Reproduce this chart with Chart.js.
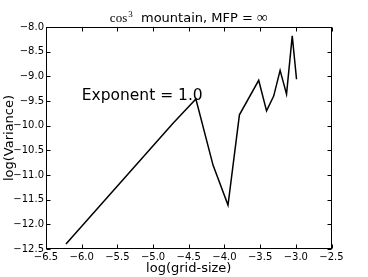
<!DOCTYPE html>
<html>
<head>
<meta charset="utf-8">
<script src="https://cdn.jsdelivr.net/npm/chart.js@4/dist/chart.umd.min.js"></script>
<style>
html,body{margin:0;padding:0;background:#fff;}
#wrap{width:368px;height:277px;position:relative;}
</style>
</head>
<body>
<div id="wrap"><canvas id="c" width="368" height="277"></canvas></div>
<script>
// ---- data ----
const logGridSize = [-6.22, -4.72, -4.40, -4.16, -3.95, -3.79, -3.52, -3.41, -3.31, -3.22, -3.13, -3.05, -2.99];
const logVariance = [-12.40, -9.95, -9.46, -10.80, -11.61, -9.78, -9.08, -9.70, -9.40, -8.88, -9.36, -8.18, -9.06];
const xTickValues = [-6.5, -6.0, -5.5, -5.0, -4.5, -4.0, -3.5, -3.0, -2.5];
const yTickValues = [-12.5, -12.0, -11.5, -11.0, -10.5, -10.0, -9.5, -9.0, -8.5, -8.0];
const titleMath = 'cos';
const titleSup = '3';
const titleText = '  mountain, MFP = ';
const titleInf = '\u221E';
const annotationText = 'Exponent = 1.0';
const annotationPos = [-6.0, -9.47];
const xLabel = 'log(grid-size)';
const yLabel = 'log(Variance)';

const fmt = v => Number(v).toFixed(1).replace('-', '\u2212');
const SANS = '"DejaVu Sans", sans-serif';
const SERIF = '"Liberation Serif", "DejaVu Serif", serif';

const framePlugin = {
  id: 'frame',
  afterDraw(chart) {
    const ctx = chart.ctx;
    const a = chart.chartArea;
    const xs = chart.scales.x, ys = chart.scales.y;
    ctx.save();
    ctx.strokeStyle = '#000';
    ctx.lineWidth = 1;
    const L = Math.round(a.left) + 0.5, R = Math.round(a.right) - 0.5;
    const T = Math.round(a.top) + 0.5, B = Math.round(a.bottom) - 0.5;
    ctx.strokeRect(L, T, R - L, B - T);
    const tl = 4;
    ctx.beginPath();
    xTickValues.forEach(v => {
      const px = Math.round(xs.getPixelForValue(v)) + 0.5;
      ctx.moveTo(px, B); ctx.lineTo(px, B - tl);
      ctx.moveTo(px, T); ctx.lineTo(px, T + tl);
    });
    yTickValues.forEach(v => {
      const py = Math.round(ys.getPixelForValue(v)) + 0.5;
      ctx.moveTo(L, py); ctx.lineTo(L + tl, py);
      ctx.moveTo(R, py); ctx.lineTo(R - tl, py);
    });
    ctx.stroke();

    // annotation
    ctx.fillStyle = '#000';
    ctx.font = '15.5px ' + SANS;
    ctx.textAlign = 'left';
    ctx.textBaseline = 'alphabetic';
    ctx.fillText(annotationText, xs.getPixelForValue(annotationPos[0]), ys.getPixelForValue(annotationPos[1]));

    // title with math parts
    const fMath = '13px ' + SERIF, fSup = '9px ' + SERIF, fTxt = '13px ' + SANS, fInf = '15px ' + SERIF;
    ctx.font = fMath; const w1 = ctx.measureText(titleMath).width;
    ctx.font = fSup; const w2 = ctx.measureText(titleSup).width + 1;
    ctx.font = fTxt; const w3 = ctx.measureText(titleText).width;
    ctx.font = fInf; const w4 = ctx.measureText(titleInf).width;
    const total = w1 + w2 + w3 + w4;
    let x = (a.left + a.right) / 2 - total / 2;
    const base = 22;
    ctx.font = fMath; ctx.fillText(titleMath, x, base); x += w1 + 1;
    ctx.font = fSup; ctx.fillText(titleSup, x, base - 5); x += w2 - 1;
    ctx.font = fTxt; ctx.fillText(titleText, x, base); x += w3;
    ctx.font = fInf; ctx.fillText(titleInf, x, base);
    ctx.restore();
  }
};

new Chart(document.getElementById('c'), {
  type: 'scatter',
  data: {
    datasets: [{
      data: logGridSize.map((x, i) => ({x: x, y: logVariance[i]})),
      showLine: true,
      borderColor: '#000',
      borderWidth: 1.5,
      pointRadius: 0,
      tension: 0,
      fill: false
    }]
  },
  options: {
    responsive: false,
    animation: false,
    devicePixelRatio: 1,
    layout: {padding: {top: 27, right: 36.5, left: 0, bottom: 0}},
    plugins: {legend: {display: false}, tooltip: {enabled: false}, title: {display: false}},
    scales: {
      x: {
        type: 'linear', min: -6.5, max: -2.5,
        afterBuildTicks: s => { s.ticks = xTickValues.map(v => ({value: v})); },
        afterFit: s => { s.height = 28; },
        grid: {display: false, drawTicks: false},
        border: {display: false},
        ticks: {color: '#000', font: {family: SANS, size: 10}, padding: 2, maxRotation: 0, autoSkip: false, callback: v => fmt(v)},
        title: {display: true, text: xLabel, color: '#000', font: {family: SANS, size: 13}, padding: {top: 0, bottom: 1}}
      },
      y: {
        type: 'linear', min: -12.5, max: -8.0,
        afterBuildTicks: s => { s.ticks = yTickValues.map(v => ({value: v})); },
        afterFit: s => { s.width = 46; },
        grid: {display: false, drawTicks: false},
        border: {display: false},
        ticks: {color: '#000', font: {family: SANS, size: 10}, padding: 2, autoSkip: false, callback: v => fmt(v)},
        title: {display: true, text: yLabel, color: '#000', font: {family: SANS, size: 13}, padding: {top: 2, bottom: 0}}
      }
    }
  },
  plugins: [framePlugin]
});
</script>
</body>
</html>
